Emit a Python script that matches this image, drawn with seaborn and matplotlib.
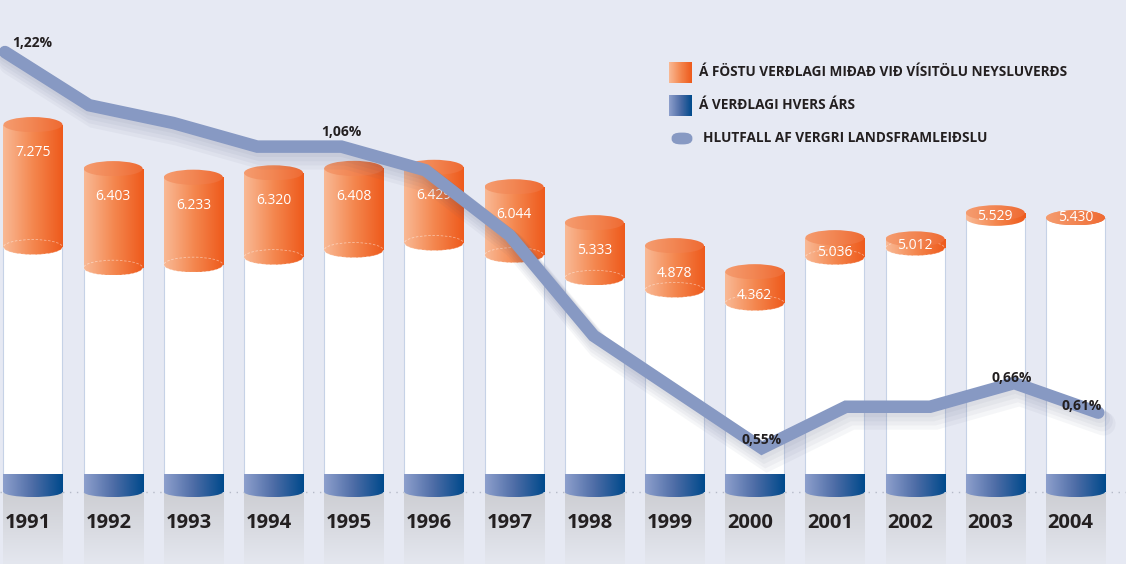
import numpy as np
import pandas as pd
import matplotlib.pyplot as plt
import matplotlib.patheffects as pe
from matplotlib.patches import Ellipse, Rectangle, FancyBboxPatch
from matplotlib.colors import LinearSegmentedColormap
import seaborn as sns

# --- data ---
years = [1991, 1992, 1993, 1994, 1995, 1996, 1997, 1998, 1999, 2000, 2001, 2002, 2003, 2004]
# á föstu verðlagi (constant prices) - labelled values
fast_verdlag = [7275, 6403, 6233, 6320, 6408, 6429, 6044, 5333, 4878, 4362, 5036, 5012, 5529, 5430]
# á verðlagi hvers árs (current prices) - estimated from the white part of each cylinder
verdlag_ars = [4850, 4440, 4500, 4650, 4790, 4930, 4690, 4240, 4000, 3740, 4650, 4830, 5420, 5430]
# hlutfall af VLF (%)
hlutfall = [1.22, 1.13, 1.10, 1.06, 1.06, 1.02, 0.91, 0.74, 0.645, 0.55, 0.62, 0.62, 0.66, 0.61]
pct_labelled = [1991, 1995, 2000, 2003, 2004]

legend_labels = ["Á FÖSTU VERÐLAGI MIÐAÐ VIÐ VÍSITÖLU NEYSLUVERÐS",
                 "Á VERÐLAGI HVERS ÁRS",
                 "HLUTFALL AF VERGRI LANDSFRAMLEIÐSLU"]

df = pd.DataFrame({"ar": [str(y) for y in years], "fast": fast_verdlag,
                   "hvers": verdlag_ars, "hlutfall": hlutfall})

# --- styling ---
sns.set_style("white")
plt.rcParams["font.family"] = ["Open Sans", "DejaVu Sans"]

BG = "#e6e9f3"
DARK = "#231f20"
LINE = "#8799c3"
orange_cm = LinearSegmentedColormap.from_list("or", ["#f9b995", "#f4874f", "#ee5a1c"])
top_cm = LinearSegmentedColormap.from_list("ot", ["#f59c70", "#f28552", "#ef6a32"])
blue_cm = LinearSegmentedColormap.from_list("bl", ["#8d9fcc", "#4d6ca6", "#004a8c"])
gray_cm = LinearSegmentedColormap.from_list("gr", ["#e4e7ef", "#cdced3"])

BW = 0.736          # cylinder width (category units)
TOP_H = 300         # height of the cylinder's top ellipse (data units)
BASE_H = 350        # height of the blue base band
hgrad = np.linspace(0, 1, 64).reshape(1, -1)
vgrad = np.linspace(0, 1, 64).reshape(-1, 1)

fig = plt.figure(figsize=(11.26, 5.64), dpi=100, facecolor=BG)
ax = fig.add_axes([0, 0, 1, 1])
ax.set_facecolor(BG)


def fill_gradient(patch, cmap, grad, z):
    ax.add_patch(patch)
    x0, y0, x1, y1 = patch.get_path().get_extents(patch.get_patch_transform()).extents
    im = ax.imshow(grad, cmap=cmap, extent=[x0, x1, y0, y1], aspect="auto",
                   origin="lower", zorder=z, interpolation="bicubic")
    im.set_clip_path(patch)


# orange full-height bars, then the white current-price body over them
sns.barplot(data=df, x="ar", y="fast", color="#f4874f", width=BW, saturation=1,
            ax=ax, zorder=2)
orange_bars = list(ax.patches)
for b in orange_bars:
    b.set_facecolor("none")
    b.set_linewidth(0)
    x0, y0, x1, y1 = b.get_bbox().extents
    im = ax.imshow(hgrad, cmap=orange_cm, extent=[x0, x1, y0, y1], aspect="auto",
                   zorder=2, interpolation="bicubic")
    im.set_clip_path(b)

sns.barplot(data=df, x="ar", y="hvers", color="white", width=BW, saturation=1,
            ax=ax, zorder=3, edgecolor="#c6d2e6", linewidth=0.8)

ymin, ymax = -1426, 9743
for i, row in df.iterrows():
    # gray column under the cylinder
    fill_gradient(Rectangle((i - BW / 2, ymin), BW, -ymin, fc="none", lw=0),
                  gray_cm, vgrad, 1)
    # blue base
    fill_gradient(Rectangle((i - BW / 2, 0), BW, BASE_H, fc="none", lw=0), blue_cm, hgrad, 4)
    fill_gradient(Ellipse((i, 0), BW, 200, fc="none", lw=0), blue_cm, hgrad, 4)
    # orange bottom rim sitting on the white body
    fill_gradient(Ellipse((i, row.hvers), BW, TOP_H, fc="none", lw=0), orange_cm, hgrad, 4)
    if row.fast - row.hvers > 150:
        ax.add_patch(Ellipse((i, row.hvers), BW, TOP_H, fc="none", ec="white",
                             lw=0.6, ls=(0, (3, 2)), alpha=0.45, zorder=5))
    # top face
    fill_gradient(Ellipse((i, row.fast), BW, TOP_H, fc="none", lw=0), top_cm, hgrad, 5)
    # value label
    lab_y = row.fast - min(550, 0.75 * (row.fast - row.hvers))
    ax.text(i, lab_y, f"{row.fast:,}".replace(",", "."), color="white", fontsize=10,
            ha="center", va="center", zorder=6)
    # year label
    ax.text(i - 0.06, -614, row.ar, color=DARK, fontsize=14.5, fontweight="bold",
            ha="center", va="center", zorder=6)

ax.axhline(0, color="#b5bac8", lw=1, ls=(0, (1, 4)), zorder=0.5)
ax.set_xlim(-0.411, 13.63)
ax.set_ylim(ymin, ymax)
ax.axis("off")

# --- percentage line on its own overlay axes ---
ax2 = fig.add_axes([0, 0, 1, 1])
ax2.patch.set_visible(False)
shadow = [pe.SimpleLineShadow(offset=(1 + k, -2 - 2 * k), shadow_color="#4a5578",
                              alpha=0.05, linewidth=11 + 2 * k) for k in range(4)]
sns.lineplot(x=np.arange(len(years)), y=hlutfall, ax=ax2, color=LINE, lw=9,
             solid_capstyle="round", solid_joinstyle="miter", zorder=7,
             path_effects=shadow + [pe.Normal()])
ax2.set_xlim(-0.059, 13.33)
ax2.set_ylim(0.354, 1.308)
ax2.axis("off")

pct_offsets = {1991: (0.33, 0.016), 1995: (0.0, 0.025), 2000: (0.0, 0.013),
               2003: (-0.03, 0.008), 2004: (-0.2, 0.012)}
for yr in pct_labelled:
    i = years.index(yr)
    dx, dy = pct_offsets[yr]
    ax2.text(i + dx, hlutfall[i] + dy, f"{hlutfall[i]:.2f}".replace(".", ",") + "%",
             color=DARK, fontsize=10, fontweight="bold", ha="center", va="center", zorder=8)

# --- legend ---
sw1 = fig.add_axes([669 / 1126, 1 - 83 / 564, 22 / 1126, 21 / 564])
sw1.imshow(hgrad, cmap=orange_cm, aspect="auto")
sw1.axis("off")
sw2 = fig.add_axes([669 / 1126, 1 - 116 / 564, 22 / 1126, 21 / 564])
sw2.imshow(hgrad, cmap=blue_cm, aspect="auto")
sw2.axis("off")
fig.patches.append(FancyBboxPatch((673 / 1126, 1 - 143 / 564), 18 / 1126, 9 / 564,
                                  boxstyle="round,pad=0,rounding_size=0.007",
                                  transform=fig.transFigure, fc=LINE, ec=LINE, lw=2))
for k, (lab, yy) in enumerate(zip(legend_labels, [72, 105, 138])):
    fig.text((699 if k < 2 else 703) / 1126, 1 - yy / 564, lab, color=DARK,
             fontsize=9.8, fontweight="bold", ha="left", va="center")

fig.savefig("out.png", dpi=100, facecolor=BG)
